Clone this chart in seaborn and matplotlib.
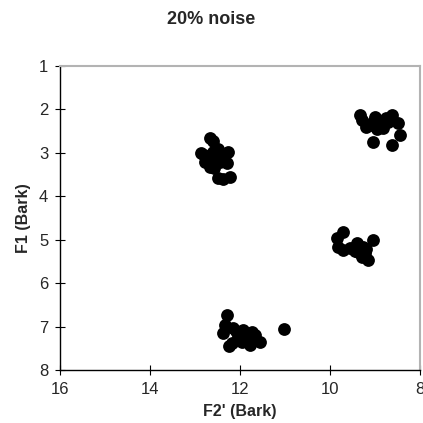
import matplotlib
matplotlib.use("Agg")
import matplotlib.pyplot as plt
import seaborn as sns
import pandas as pd

# Vowel tokens in the F2'–F1 plane (Bark), four clusters
f2_prime = [
    # upper-left cluster
    12.67, 12.60, 12.87, 12.60, 12.27, 12.78, 12.67, 12.44, 12.29, 12.49, 12.22, 12.38,
    12.55, 12.72, 12.40, 12.58, 12.80, 12.50,
    # upper-right cluster
    9.33, 9.29, 9.00, 9.11, 8.62, 8.82, 8.71, 8.49, 8.44, 9.04, 8.62, 8.89,
    9.20, 8.95, 8.75, 9.05,
    # middle-right cluster
    9.71, 9.84, 9.82, 9.71, 9.56, 9.40, 9.38, 9.22, 9.16, 9.04, 9.27,
    9.30, 9.45, 9.20,
    # lower cluster
    12.29, 12.33, 12.38, 12.16, 11.93, 11.73, 12.18, 11.96, 11.78, 11.56, 11.67, 12.04,
    11.02, 12.10, 11.85, 12.25,
]
f1 = [
    2.66, 2.73, 3.00, 2.98, 2.98, 3.21, 3.33, 3.21, 3.24, 3.58, 3.56, 3.60,
    3.10, 3.15, 3.05, 3.35, 3.05, 2.90,
    2.13, 2.24, 2.18, 2.36, 2.13, 2.43, 2.29, 2.31, 2.59, 2.75, 2.82, 2.31,
    2.40, 2.45, 2.20, 2.28,
    4.82, 4.96, 5.17, 5.24, 5.19, 5.08, 5.29, 5.31, 5.47, 5.01, 5.17,
    5.40, 5.25, 5.22,
    6.74, 6.97, 7.15, 7.04, 7.08, 7.13, 7.38, 7.36, 7.43, 7.36, 7.20, 7.24,
    7.06, 7.10, 7.28, 7.45,
]

x_ticks = [16, 14, 12, 10, 8]
y_ticks = [1, 2, 3, 4, 5, 6, 7, 8]

df = pd.DataFrame({"F2'": f2_prime, "F1": f1})

sns.set_style("white")
plt.rcParams["font.family"] = ["Liberation Sans", "DejaVu Sans"]

fig = plt.figure(figsize=(4.23, 4.23), dpi=100)
ax = fig.add_axes([0.142, 0.125, 0.851, 0.719])

sns.scatterplot(data=df, x="F2'", y="F1", ax=ax, color="black",
                s=85, edgecolor="black", linewidth=0, legend=False, zorder=3)

ax.set_xlim(16, 8)
ax.set_ylim(8, 1)
ax.set_xticks(x_ticks)
ax.set_yticks(y_ticks)
ax.set_xticklabels([str(t) for t in x_ticks])
ax.set_yticklabels([str(t) for t in y_ticks])

for side in ("left", "bottom"):
    ax.spines[side].set_color("black")
    ax.spines[side].set_linewidth(1.0)
for side in ("top", "right"):
    ax.spines[side].set_visible(True)
    ax.spines[side].set_color("#b3b3b3")
    ax.spines[side].set_linewidth(1.5)

ax.tick_params(axis="both", direction="inout", length=7, width=0.8,
               color="black", labelsize=12, pad=5, left=True, bottom=True)

ax.set_xlabel("F2' (Bark)", fontsize=11.5, fontweight="bold", labelpad=5)
ax.set_ylabel("F1 (Bark)", fontsize=11.5, fontweight="bold", labelpad=6)
fig.suptitle("20% noise", x=0.5, y=0.975, fontsize=13, fontweight="bold")

fig.savefig("out.png", dpi=100)
